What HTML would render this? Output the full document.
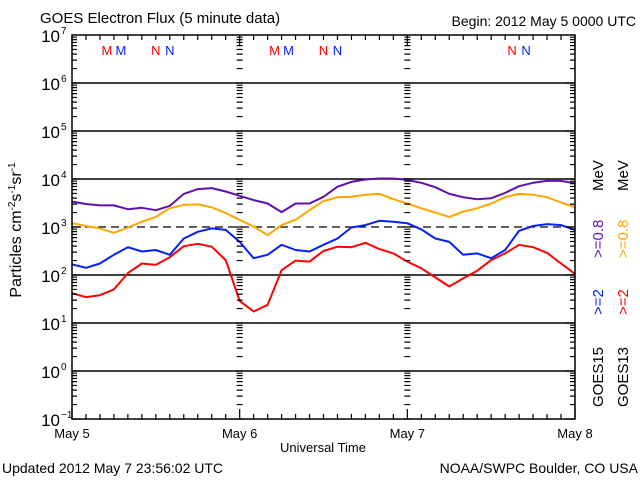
<!DOCTYPE html>
<html><head><meta charset="utf-8"><style>
html,body{margin:0;padding:0;background:#fff;}
svg{display:block;font-family:"Liberation Sans",sans-serif;}
</style></head><body>
<svg id="chart" width="640" height="480" viewBox="0 0 640 480" xmlns="http://www.w3.org/2000/svg">
<rect x="0" y="0" width="640" height="480" fill="#fff"/>
<text x="40" y="23" font-size="15">GOES Electron Flux (5 minute data)</text>
<text x="636" y="26" font-size="14" text-anchor="end">Begin: 2012 May 5 0000 UTC</text>
<text x="323" y="452" font-size="13" text-anchor="middle">Universal Time</text>
<text x="2" y="473" font-size="14">Updated 2012 May  7 23:56:02 UTC</text>
<text x="638" y="473" font-size="14" text-anchor="end">NOAA/SWPC Boulder, CO USA</text>
<text transform="translate(21,230) rotate(-90)" font-size="16" text-anchor="middle">Particles cm<tspan dy="-6" font-size="10">-2</tspan><tspan dy="6">s</tspan><tspan dy="-6" font-size="10">-1</tspan><tspan dy="6">sr</tspan><tspan dy="-6" font-size="10">-1</tspan></text>
<g id="grid"></g>
<g id="series"></g>
<g id="axes"></g>
<g id="labels"></g>
<g>
<text transform="translate(603,407) rotate(-90)" font-size="15">GOES15</text>
<text transform="translate(603,315) rotate(-90)" font-size="15" fill="#0020ff">&gt;=2</text>
<text transform="translate(603,258) rotate(-90)" font-size="15" fill="#6010b0">&gt;=0.8</text>
<text transform="translate(603,191) rotate(-90)" font-size="15">MeV</text>
<text transform="translate(628,407) rotate(-90)" font-size="15">GOES13</text>
<text transform="translate(628,315) rotate(-90)" font-size="15" fill="#ff0000">&gt;=2</text>
<text transform="translate(628,258) rotate(-90)" font-size="15" fill="#ffa500">&gt;=0.8</text>
<text transform="translate(628,191) rotate(-90)" font-size="15">MeV</text>
</g>
</svg>
<script>
// data: hours since May 5 00:00 UTC (2-hour sampling), log10 flux
const hours = [0,2,4,6,8,10,12,14,16,18,20,22,24,26,28,30,32,34,36,38,40,42,44,46,48,50,52,54,56,58,60,62,64,66,68,70,72];
const g15_08 = [3.53,3.48,3.45,3.45,3.37,3.40,3.35,3.44,3.69,3.79,3.81,3.74,3.65,3.56,3.49,3.31,3.49,3.49,3.63,3.84,3.94,3.99,4.01,4.01,3.98,3.92,3.83,3.69,3.62,3.58,3.60,3.71,3.85,3.92,3.96,3.96,3.91];
const g13_08 = [3.08,3.02,2.97,2.88,2.99,3.11,3.21,3.39,3.46,3.47,3.41,3.29,3.15,3.01,2.83,3.04,3.15,3.35,3.54,3.62,3.63,3.67,3.69,3.58,3.49,3.39,3.30,3.21,3.32,3.39,3.49,3.62,3.69,3.67,3.62,3.51,3.41];
const g15_2 = [2.22,2.15,2.24,2.42,2.58,2.49,2.52,2.42,2.76,2.90,2.97,2.94,2.69,2.35,2.42,2.63,2.52,2.49,2.63,2.76,2.99,3.04,3.13,3.11,3.08,2.95,2.76,2.69,2.42,2.45,2.35,2.52,2.92,3.02,3.06,3.04,2.94];
const g13_2 = [1.62,1.54,1.58,1.70,2.04,2.24,2.21,2.37,2.60,2.65,2.59,2.31,1.46,1.24,1.38,2.10,2.30,2.28,2.50,2.59,2.58,2.67,2.54,2.45,2.28,2.14,1.95,1.76,1.93,2.09,2.31,2.45,2.63,2.58,2.46,2.24,2.02];
const decades = [-1,0,1,2,3,4,5,6,7];
const dayLabels = ["May 5","May 6","May 7","May 8"];
const marks = [["M",5,"#ff0000"],["M",7,"#0020ff"],["N",12,"#ff0000"],["N",14,"#0020ff"],["M",29,"#ff0000"],["M",31,"#0020ff"],["N",36,"#ff0000"],["N",38,"#0020ff"],["N",63,"#ff0000"],["N",65,"#0020ff"]];

const NS="http://www.w3.org/2000/svg";
const X0=72,X1=575,Y0=419,Y1=35;
function xs(h){return X0+(X1-X0)*h/72;}
function ys(l){return Y0-(Y0-Y1)*(l-(-1))/8;}
function mk(tag,attrs,parent){const e=document.createElementNS(NS,tag);for(const k in attrs)e.setAttribute(k,attrs[k]);parent.appendChild(e);return e;}
const grid=document.getElementById('grid'),axes=document.getElementById('axes'),labels=document.getElementById('labels'),series=document.getElementById('series');

decades.forEach(d=>{
  if(d>-1&&d<7&&d!==3){
    const l=mk('line',{x1:X0,x2:X1,y1:ys(d),y2:ys(d),stroke:'#000','stroke-width':1.5},grid);
    
    
  }
  const t=mk('text',{x:60,y:ys(d)+7,'font-size':17,'text-anchor':'end'},labels);
  
  
  t.textContent='10';
  const e=mk('text',{x:61,y:ys(d)-1,'font-size':10},labels);
  
  
  e.textContent=d<0?'\u2212'+Math.abs(d):String(d);
});
const dl=mk('line',{x1:X0,x2:X1,y1:ys(3),y2:ys(3),stroke:'#000','stroke-width':1.3,'stroke-dasharray':'8,5'},grid);



const fr=mk('rect',{x:X0,y:Y1,width:X1-X0,height:Y0-Y1,fill:'none',stroke:'#000','stroke-width':1.5},axes);


let tp='';
for(let d=-1;d<7;d++){
  for(let m=1;m<10;m++){
    const y=ys(d+Math.log10(m));
    const len=m===1?9:5;
    tp+=`M${X0} ${y}h${len}M${X1} ${y}h${-len}`;
    [1,2].forEach(day=>{const x=xs(day*24);if(m>1)tp+=`M${x-3} ${y}h6`;else tp+=`M${x-4} ${y}h8`;});
  }
}
for(let h=0;h<=72;h+=2){
  const x=xs(h);const len=h%24===0?10:5;
  tp+=`M${x} ${Y0}v${-len}M${x} ${Y1}v${len}`;
}
const tk=mk('path',{d:tp,stroke:'#000','stroke-width':1.2,fill:'none'},axes);



dayLabels.forEach((s,i)=>{
  const t=mk('text',{x:xs(i*24),y:438,'font-size':13,'text-anchor':'middle'},labels);
  
  
  t.textContent=s;
});
marks.forEach((m,i)=>{
  const t=mk('text',{x:xs(m[1]),y:55,'font-size':13,'text-anchor':'middle',fill:m[2]},labels);
  
  
  t.textContent=m[0];
});

function drawSeries(vals,color,name){
  const pts=vals.map((v,i)=>xs(hours[i]).toFixed(1)+','+ys(v).toFixed(1)).join(' ');
  const p=mk('polyline',{points:pts,fill:'none',stroke:color,'stroke-width':2,'stroke-linejoin':'round'},series);
  
  
}
drawSeries(g15_08,'#6010b0','series-goes15-0.8mev');
drawSeries(g13_08,'#ffa500','series-goes13-0.8mev');
drawSeries(g15_2,'#0020ff','series-goes15-2mev');
drawSeries(g13_2,'#ff0000','series-goes13-2mev');
</script>
</body></html>
